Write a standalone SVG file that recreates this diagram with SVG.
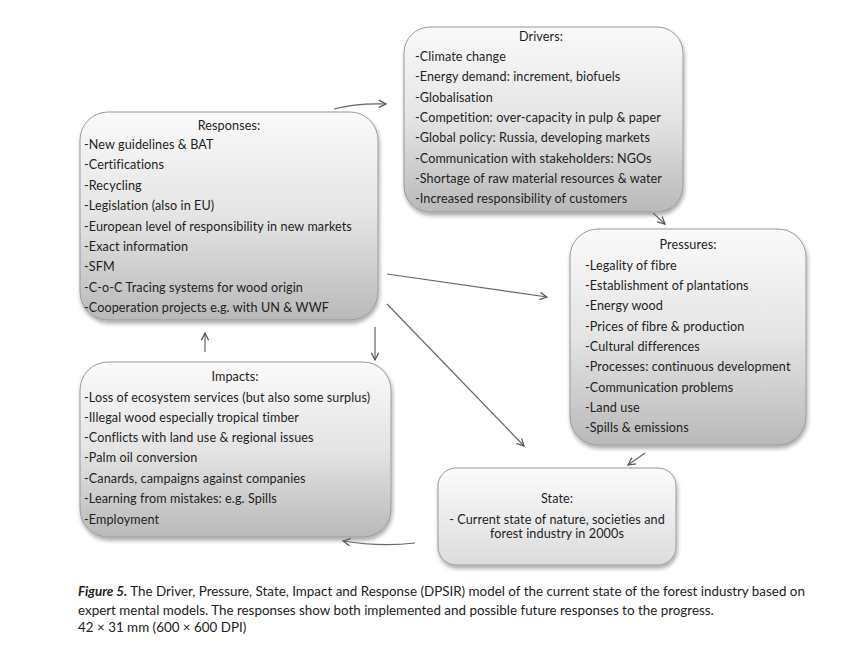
<svg xmlns="http://www.w3.org/2000/svg" width="866" height="666" viewBox="0 0 866 666">
<defs>
<linearGradient id="g" x1="0" y1="0" x2="0" y2="1">
<stop offset="0" stop-color="#fafafa"/>
<stop offset="0.5" stop-color="#e4e4e4"/>
<stop offset="1" stop-color="#b9b9b9"/>
</linearGradient>
<linearGradient id="gs" x1="0" y1="0" x2="0" y2="1">
<stop offset="0" stop-color="#fbfbfb"/>
<stop offset="1" stop-color="#dcdcdc"/>
</linearGradient>
<filter id="sh" x="-10%" y="-10%" width="120%" height="125%">
<feGaussianBlur in="SourceAlpha" stdDeviation="2"/>
<feOffset dx="1" dy="3" result="b"/>
<feComponentTransfer><feFuncA type="linear" slope="0.35"/></feComponentTransfer>
<feMerge><feMergeNode/><feMergeNode in="SourceGraphic"/></feMerge>
</filter>
<marker id="ah" viewBox="0 0 10 10" refX="9" refY="5" markerWidth="9" markerHeight="9" markerUnits="userSpaceOnUse" orient="auto">
<path d="M1,1 L9,5 L1,9" fill="none" stroke="#555" stroke-width="1.4"/>
</marker>
</defs>
<style>
.box{fill:url(#g);stroke:#9a9a9a;stroke-width:1;filter:url(#sh)}
.st{fill:url(#gs)}
text{font-family:Lato,"Open Sans","Liberation Sans",sans-serif;font-size:12.6px;letter-spacing:0.1px;fill:#1e1e1e}
.t{text-anchor:middle}
.c{font-size:13.4px;letter-spacing:0;fill:#222}
.conn path{fill:none;stroke:#666;stroke-width:1.2;marker-end:url(#ah)}
</style>
<rect width="866" height="666" fill="#fff"/>

<g id="drivers">
<rect class="box" x="404" y="27" width="279" height="185" rx="26"/>
<text class="t" x="541" y="41">Drivers:</text>
<text x="415" y="61">-Climate change</text>
<text x="415" y="81">-Energy demand: increment, biofuels</text>
<text x="415" y="102">-Globalisation</text>
<text x="415" y="122">-Competition: over-capacity in pulp &amp; paper</text>
<text x="415" y="142">-Global policy: Russia, developing markets</text>
<text x="415" y="163">-Communication with stakeholders: NGOs</text>
<text x="415" y="183">-Shortage of raw material resources &amp; water</text>
<text x="415" y="203">-Increased responsibility of customers</text>
</g>

<g id="responses">
<rect class="box" x="80" y="112" width="298" height="208" rx="28"/>
<text class="t" x="229" y="130">Responses:</text>
<text x="84" y="149">-New guidelines &amp; BAT</text>
<text x="84" y="169">-Certifications</text>
<text x="84" y="190">-Recycling</text>
<text x="84" y="210">-Legislation (also in EU)</text>
<text x="84" y="231">-European level of responsibility in new markets</text>
<text x="84" y="251">-Exact information</text>
<text x="84" y="271">-SFM</text>
<text x="84" y="292">-C-o-C Tracing systems for wood origin</text>
<text x="84" y="312">-Cooperation projects e.g. with UN &amp; WWF</text>
</g>

<g id="pressures">
<rect class="box" x="570" y="229" width="236" height="216" rx="28"/>
<text class="t" x="688" y="249">Pressures:</text>
<text x="585" y="270">-Legality of fibre</text>
<text x="585" y="290">-Establishment of plantations</text>
<text x="585" y="310">-Energy wood</text>
<text x="585" y="331">-Prices of fibre &amp; production</text>
<text x="585" y="351">-Cultural differences</text>
<text x="585" y="371">-Processes: continuous development</text>
<text x="585" y="392">-Communication problems</text>
<text x="585" y="412">-Land use</text>
<text x="585" y="432">-Spills &amp; emissions</text>
</g>

<g id="impacts">
<rect class="box" x="80" y="362" width="311" height="175" rx="28"/>
<text class="t" x="235" y="381">Impacts:</text>
<text x="84" y="402">-Loss of ecosystem services (but also some surplus)</text>
<text x="84" y="422">-Illegal wood especially tropical timber</text>
<text x="84" y="442">-Conflicts with land use &amp; regional issues</text>
<text x="84" y="462">-Palm oil conversion</text>
<text x="84" y="483">-Canards, campaigns against companies</text>
<text x="84" y="503">-Learning from mistakes: e.g. Spills</text>
<text x="84" y="524">-Employment</text>
</g>

<g id="state">
<rect class="box st" x="438" y="468" width="238" height="97" rx="18"/>
<text class="t" x="557" y="503">State:</text>
<text class="t" x="557" y="524">- Current state of nature, societies and</text>
<text class="t" x="557" y="538">forest industry in 2000s</text>
</g>

<g id="connectors" class="conn">
<path d="M334,109 Q356,103 386,104"/>
<path d="M653,213 L665,224"/>
<path d="M387,274 L547,297"/>
<path d="M387,304 L524,446"/>
<path d="M645,453 L628,465"/>
<path d="M375,327 L375,360"/>
<path d="M205,352 L205,333"/>
<path d="M415,543 Q380,547 343,541"/>
</g>

<g id="caption">
<text class="c" x="78" y="596"><tspan font-weight="bold" font-style="italic">Figure 5.</tspan> The Driver, Pressure, State, Impact and Response (DPSIR) model of the current state of the forest industry based on</text>
<text class="c" x="78" y="615">expert mental models. The responses show both implemented and possible future responses to the progress.</text>
<text class="c" x="78" y="632">42 × 31 mm (600 × 600 DPI)</text>
</g>
</svg>
